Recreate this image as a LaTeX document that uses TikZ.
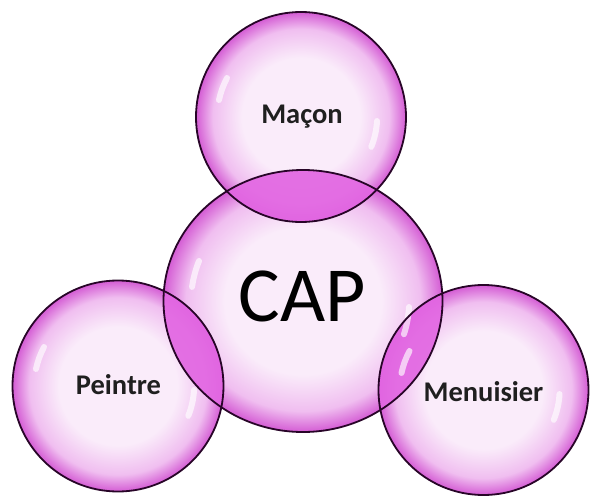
\documentclass[tikz,border=0pt]{standalone}
\usepackage{fontspec}
\setmainfont{Carlito}
\usetikzlibrary{shapes.geometric,calc}
\definecolor{bubin}{RGB}{250,236,250}
\definecolor{bubmid}{RGB}{240,190,240}
\definecolor{bubout}{RGB}{212,92,212}
\definecolor{lensc}{RGB}{226,102,226}
\definecolor{rimc}{RGB}{40,5,40}
\pgfdeclareradialshading{bubble}{\pgfpoint{0bp}{0bp}}{color(0bp)=(bubin); color(14bp)=(bubin); color(21bp)=(bubmid); color(25bp)=(bubout); color(50bp)=(bubout)}
\tikzset{
  bubblenode/.style={circle, shading=bubble, inner sep=0pt, text=black!88},
  rim/.style={draw=rimc, line width=1.8pt},
  shine/.style={white, opacity=0.65, line width=6pt, line cap=round},
  lensfill/.style={fill=lensc, fill opacity=0.92},
  label/.style={font=\fontsize{28.5}{30}\selectfont\bfseries},
}
\begin{document}
\begin{tikzpicture}[x=1pt,y=-1pt]
\useasboundingbox (0,0) rectangle (590,496);
% bubbles
\node[bubblenode, ellipse, minimum width=279pt, minimum height=262pt] (cap) at (303,301) {};
\node[bubblenode, minimum size=210pt] (macon) at (301,117) {};
\node[bubblenode, minimum size=211pt] (peintre) at (118,386) {};
\node[bubblenode, minimum size=210pt] (menuisier) at (483.5,390) {};
% lenses
\begin{scope}
  \clip (cap.center) ellipse (139.5pt and 131pt);
  \fill[lensfill] (macon.center) circle (105pt);
  \fill[lensfill] (peintre.center) circle (105.5pt);
  \fill[lensfill] (menuisier.center) circle (105pt);
\end{scope}
% shines
\foreach \n in {macon,peintre,menuisier}{
  \draw[shine] ($(\n.center)+(-74,-39)$) arc[start angle=152, end angle=168, radius=84pt];
  \draw[shine] ($(\n.center)+(76,4)$) arc[start angle=-3, end angle=-22, radius=80pt];
}
\draw[shine] ($(cap.center)+(-104,-40)$) arc[start angle=158, end angle=172, radius=110pt];
\draw[shine] ($(cap.center)+(106,6)$) arc[start angle=-3, end angle=-18, radius=106pt];
% outlines
\draw[rim] (cap.center) ellipse (139.5pt and 131pt);
\draw[rim] (macon.center) circle (105pt);
\draw[rim] (peintre.center) circle (105.5pt);
\draw[rim] (menuisier.center) circle (105pt);
% texts
\node[label, text=black!88] (tmacon) at (302,117) {Maçon};
\node[label, text=black!88] (tpeintre) at (118.5,385) {Peintre};
\node[label, text=black!88] (tmenuisier) at (483.5,392) {Menuisier};
\node[font=\fontsize{78}{80}\selectfont, text=black] (tcap) at (302,296) {CAP};
\end{tikzpicture}
\end{document}
